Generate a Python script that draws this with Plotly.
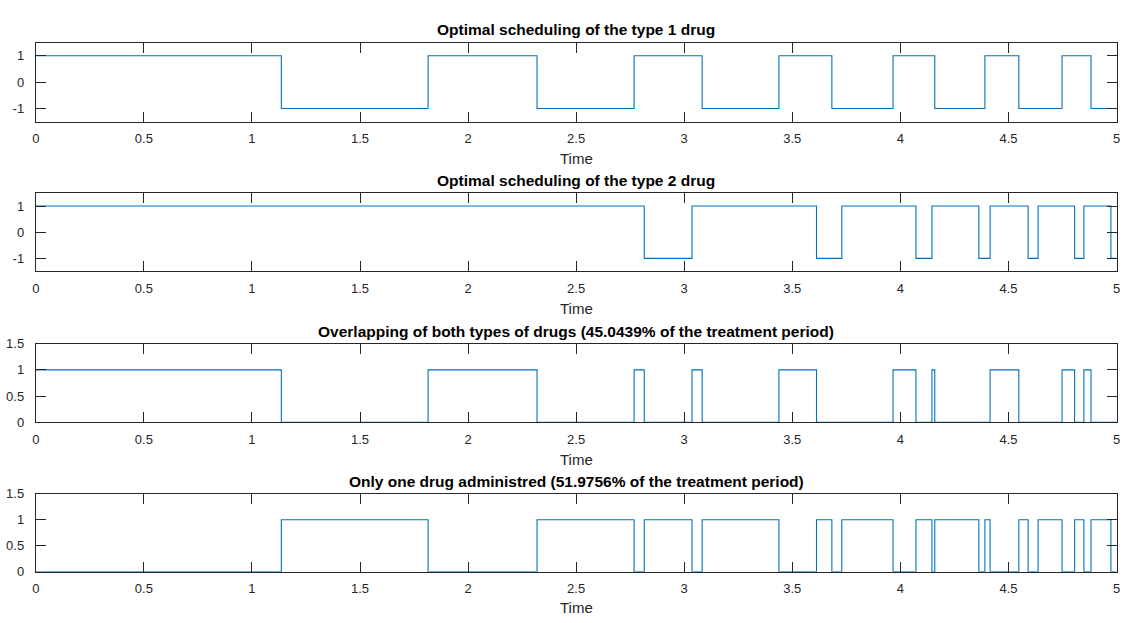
import plotly.graph_objects as go

# ---- data ----
t_end = 5.0
# switching instants of the bang-bang controls (start value +1, alternating)
type1_switch_times = [1.136, 1.815, 2.319, 2.768, 3.083, 3.438, 3.683,
                      3.966, 4.159, 4.391, 4.548, 4.748, 4.882]
type2_switch_times = [2.815, 3.036, 3.612, 3.729, 4.072, 4.146, 4.363,
                      4.415, 4.591, 4.637, 4.806, 4.849, 4.974]
type1_start = 1
type2_start = 1

titles = [
    "Optimal scheduling of the type 1 drug",
    "Optimal scheduling of the type 2 drug",
    "Overlapping of both types of drugs (45.0439% of the treatment period)",
    "Only one drug administred (51.9756% of the treatment period)",
]
x_ticks = [0, 0.5, 1, 1.5, 2, 2.5, 3, 3.5, 4, 4.5, 5]
x_ticktext = ["0", "0.5", "1", "1.5", "2", "2.5", "3", "3.5", "4", "4.5", "5"]
y_ticks_ctrl = [-1, 0, 1]
y_ticktext_ctrl = ["-1", "0", "1"]
y_ticks_ind = [0, 0.5, 1, 1.5]
y_ticktext_ind = ["0", "0.5", "1", "1.5"]


def value_at(t, switches, start):
    v = start
    for s in switches:
        if t >= s:
            v = -v
    return v


times = sorted(set([0.0] + type1_switch_times + type2_switch_times + [t_end]))
u1 = [value_at(t, type1_switch_times, type1_start) for t in times]
u2 = [value_at(t, type2_switch_times, type2_start) for t in times]
overlap = [1 if (a == 1 and b == 1) else 0 for a, b in zip(u1, u2)]
only_one = [1 if a != b else 0 for a, b in zip(u1, u2)]

series = [u1, u2, overlap, only_one]

# ---- layout geometry (pixels from top of 1125x623 canvas) ----
W, H = 1125, 623
x_left, x_right = 32, 1120.5
boxes = [(36.5, 117.5), (190.5, 271), (345, 425.5), (498.7, 578.7)]
title_y = [23, 178, 332, 486]
xlabel_y = [155.5, 309, 463.5, 615.5]

LINE = "#0072BD"
AX = "#262626"
FONT = "Liberation Sans, Arial, Helvetica, sans-serif"

fig = go.Figure()
annotations = []
for i, (ys, (top, bot)) in enumerate(zip(series, boxes)):
    n = "" if i == 0 else str(i + 1)
    fig.add_trace(go.Scatter(
        x=times, y=ys, mode="lines", line=dict(color=LINE, width=1.1, shape="hv"),
        xaxis="x" + n, yaxis="y" + n, showlegend=False, cliponaxis=False,
        hoverinfo="x+y"))
    xdom = [x_left / W, x_right / W]
    ydom = [(H - bot) / H, (H - top) / H]
    common = dict(showline=True, linecolor=AX, linewidth=1, mirror="ticks",
                  ticks="inside", ticklen=10, tickwidth=1, tickcolor=AX,
                  showgrid=False, zeroline=False,
                  tickfont=dict(family=FONT, size=13, color=AX))
    fig.update_layout(**{
        "xaxis" + n: dict(domain=xdom, range=[0, t_end], anchor="y" + n,
                          tickvals=x_ticks, ticktext=x_ticktext,
                          ticklabelstandoff=5, **common),
        "yaxis" + n: dict(domain=ydom, anchor="x" + n,
                          range=[-1.5, 1.5] if i < 2 else [0, 1.5],
                          tickvals=y_ticks_ctrl if i < 2 else y_ticks_ind,
                          ticktext=y_ticktext_ctrl if i < 2 else y_ticktext_ind,
                          ticklabelstandoff=8, **common),
    })
    annotations.append(dict(
        text="<b>" + titles[i] + "</b>", x=(x_left + x_right) / 2 / W,
        y=(H - title_y[i]) / H, xref="paper", yref="paper",
        xanchor="center", yanchor="middle", showarrow=False,
        font=dict(family=FONT, size=15.5, color="#000000")))
    annotations.append(dict(
        text="Time", x=(x_left + x_right) / 2 / W,
        y=(H - xlabel_y[i]) / H, xref="paper", yref="paper",
        xanchor="center", yanchor="middle", showarrow=False,
        font=dict(family=FONT, size=15, color=AX)))

fig.update_layout(
    width=W, height=H, margin=dict(l=0, r=0, t=0, b=0),
    paper_bgcolor="white", plot_bgcolor="white",
    annotations=annotations, showlegend=False,
)

fig.write_html("out.html")
